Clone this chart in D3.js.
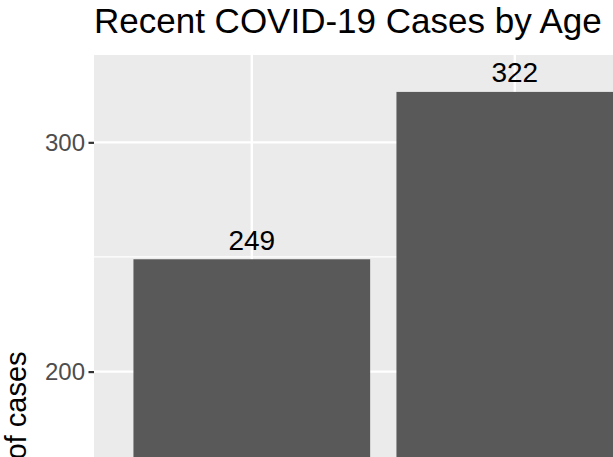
<!doctype html>
<html lang="en">
<head>
	<meta charset="UTF-8">
	<title>Recent COVID-19 Cases by Age</title>
	<style>
		body { margin: 0; background: #fff; overflow: hidden; }
		svg { display: block; font-family: "Liberation Sans", Arial, sans-serif; }
		.tick text { fill: #4d4d4d; }
		.tick line { stroke: #333333; }
	</style>
</head>
<body>
	<script src="https://cdn.jsdelivr.net/npm/d3@7"></script>
	<script>
		// data (only the first two bars are in view)
		var ageGroups = ['0-9', '10-19'],
			caseCounts = [249, 322],
			yTicks = [0, 100, 200, 300];

		var w = 613,
			h = 457,
			panelLeft = 94,
			panelTop = 55,
			step = 263,
			panelHeight = 812;

		var svg = d3.select('body')
			.append('svg')
			.attr('width', w)
			.attr('height', h);

		// ggplot style: bar width 0.9, 0.6 units of padding at each end
		var xScale = d3.scaleBand()
			.domain(ageGroups)
			.range([panelLeft, panelLeft + step * (ageGroups.length + 0.2)])
			.paddingInner(0.1)
			.paddingOuter(0.15);

		var yMax = d3.max(caseCounts),
			yPad = yMax * 0.05;
		var yScale = d3.scaleLinear()
			.domain([-yPad, yMax + yPad])
			.range([panelTop + panelHeight, panelTop]);

		var panelRight = xScale.range()[1];

		// panel background
		svg.append('rect')
			.attr('x', panelLeft)
			.attr('y', panelTop)
			.attr('width', panelRight - panelLeft)
			.attr('height', panelHeight)
			.attr('fill', '#ebebeb');

		// minor gridlines halfway between the major ones
		var yMinor = yTicks.map(function(d) { return d + 50; });
		svg.selectAll('.grid-minor')
			.data(yMinor)
			.enter()
			.append('line')
			.attr('x1', panelLeft)
			.attr('x2', panelRight)
			.attr('y1', function(d) { return yScale(d); })
			.attr('y2', function(d) { return yScale(d); })
			.attr('stroke', '#fff')
			.attr('stroke-width', 1.2);

		svg.selectAll('.grid-major')
			.data(yTicks)
			.enter()
			.append('line')
			.attr('x1', panelLeft)
			.attr('x2', panelRight)
			.attr('y1', function(d) { return yScale(d); })
			.attr('y2', function(d) { return yScale(d); })
			.attr('stroke', '#fff')
			.attr('stroke-width', 2.4);

		svg.selectAll('.grid-x')
			.data(ageGroups)
			.enter()
			.append('line')
			.attr('x1', function(d) { return xScale(d) + xScale.bandwidth() / 2; })
			.attr('x2', function(d) { return xScale(d) + xScale.bandwidth() / 2; })
			.attr('y1', panelTop)
			.attr('y2', panelTop + panelHeight)
			.attr('stroke', '#fff')
			.attr('stroke-width', 2.4);

		// bars
		svg.selectAll('.bar')
			.data(caseCounts)
			.enter()
			.append('rect')
			.attr('x', function(d, i) { return xScale(ageGroups[i]); })
			.attr('y', function(d) { return yScale(d); })
			.attr('width', xScale.bandwidth())
			.attr('height', function(d) { return yScale(0) - yScale(d); })
			.attr('fill', '#595959');

		// value labels above bars
		svg.selectAll('.bar-label')
			.data(caseCounts)
			.enter()
			.append('text')
			.attr('x', function(d, i) { return xScale(ageGroups[i]) + xScale.bandwidth() / 2; })
			.attr('y', function(d) { return yScale(d) - 9.5; })
			.attr('text-anchor', 'middle')
			.attr('font-size', 28)
			.attr('fill', '#000')
			.text(function(d) { return d; });

		// y axis
		var yAxis = d3.axisLeft(yScale)
			.tickValues(yTicks)
			.tickSize(5.5)
			.tickPadding(3.5);

		var gy = svg.append('g')
			.attr('transform', 'translate(' + panelLeft + ',0)')
			.call(yAxis);
		gy.select('.domain').remove();
		gy.selectAll('.tick line').attr('stroke-width', 2.2);
		gy.selectAll('.tick text')
			.attr('font-size', 24)
			.attr('font-family', '"Liberation Sans", Arial, sans-serif');

		// axis title
		svg.append('text')
			.attr('transform', 'translate(26,' + (panelTop + panelHeight / 2) + ') rotate(-90)')
			.attr('text-anchor', 'middle')
			.attr('font-size', 29)
			.attr('fill', '#000')
			.text('Number of cases');

		// chart title
		svg.append('text')
			.attr('x', panelLeft)
			.attr('y', 33)
			.attr('font-size', 35)
			.attr('fill', '#000')
			.text('Recent COVID-19 Cases by Age');
	</script>
</body>
</html>
